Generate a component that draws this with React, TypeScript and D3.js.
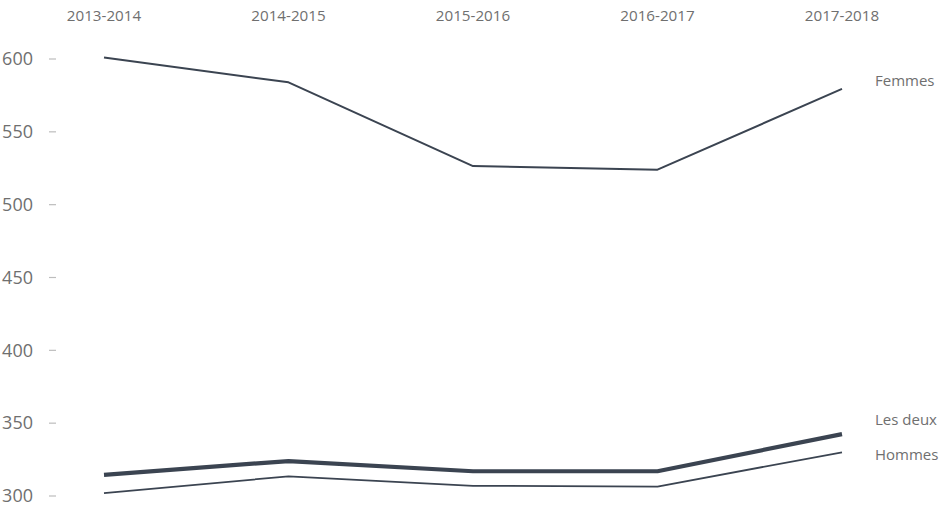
import React, { useEffect, useRef } from "react";
import * as d3 from "d3";

const years = ["2013-2014", "2014-2015", "2015-2016", "2016-2017", "2017-2018"];
const femmes = [601, 584, 526.5, 524, 579.5];
const lesDeux = [314.5, 324, 317, 317, 342.5];
const hommes = [302, 313.5, 307, 306.5, 330];
const yTicks = [300, 350, 400, 450, 500, 550, 600];

const series = [
  { name: "Femmes", values: femmes, width: 2, labelY: 81 },
  { name: "Les deux", values: lesDeux, width: 4.2, labelY: 420 },
  { name: "Hommes", values: hommes, width: 1.8, labelY: 455 },
];

const width = 943;
const height = 519;

export default function App() {
  const svgRef = useRef<SVGSVGElement>(null);

  useEffect(() => {
    const svg = d3.select(svgRef.current);
    svg.selectAll("*").remove();

    const x = d3.scalePoint<string>().domain(years).range([104, 842]);
    const y = d3.scaleLinear().domain([300, 600]).range([496, 59]);

    const font = "'Open Sans', 'Noto Sans', sans-serif";

    // etiquetas de años arriba
    svg
      .selectAll(".year")
      .data(years)
      .enter()
      .append("text")
      .attr("x", (d) => x(d)!)
      .attr("y", 21)
      .attr("text-anchor", "middle")
      .attr("font-family", font)
      .attr("font-size", "15.2px")
      .attr("fill", "#6f6f6f")
      .text((d) => d);

    // eje Y
    const ticks = svg.selectAll(".tick").data(yTicks).enter().append("g");
    ticks
      .append("text")
      .attr("x", 33)
      .attr("y", (d) => y(d))
      .attr("dy", "0.35em")
      .attr("text-anchor", "end")
      .attr("font-family", font)
      .attr("font-size", "18px")
      .attr("fill", "#6f6f6f")
      .text((d) => d);
    ticks
      .append("line")
      .attr("x1", 49)
      .attr("x2", 56)
      .attr("y1", (d) => y(d))
      .attr("y2", (d) => y(d))
      .attr("stroke", "#bdbdbd")
      .attr("stroke-width", 1.2);

    const line = d3
      .line<number>()
      .x((_, i) => x(years[i])!)
      .y((d) => y(d));

    series.forEach((s) => {
      svg
        .append("path")
        .attr("d", line(s.values)!)
        .attr("fill", "none")
        .attr("stroke", "#3b4451")
        .attr("stroke-width", s.width)
        .attr("stroke-linejoin", "round");

      svg
        .append("text")
        .attr("x", 875)
        .attr("y", s.labelY)
        .attr("dy", "0.35em")
        .attr("font-family", font)
        .attr("font-size", "15px")
        .attr("fill", "#6f6f6f")
        .text(s.name);
    });
  }, []);

  return (
    <svg
      ref={svgRef}
      width={width}
      height={height}
      style={{ position: "absolute", left: 0, top: 0, background: "#fff" }}
    />
  );
}
